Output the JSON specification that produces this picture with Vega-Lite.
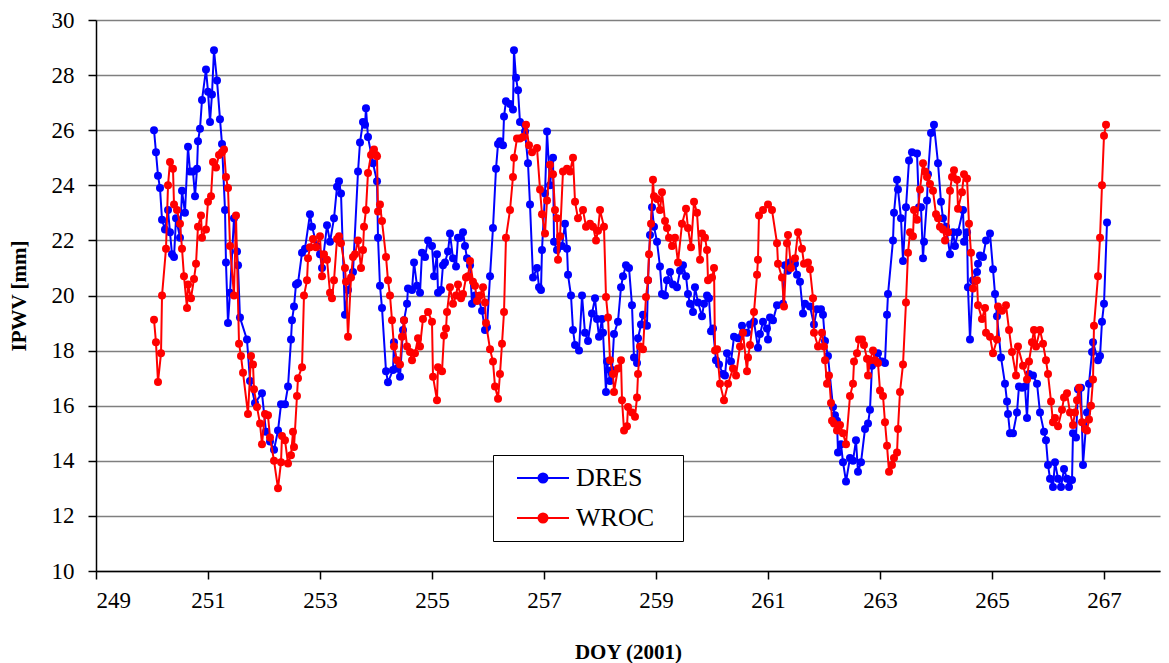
{
"$schema": "https://vega.github.io/schema/vega-lite/v6.json",
"width": 1064, "height": 551,
"autosize": "none",
"padding": {"left": 96, "top": 20, "right": 9, "bottom": 92},
"background": "white",
"config": {"font": "Liberation Serif", "view": {"stroke": null},
  "axis": {"labelColor": "black", "titleColor": "black", "domainColor": "black", "tickColor": "black", "domainWidth": 1.5, "tickWidth": 1.5, "tickSize": 8, "labelFontSize": 23, "titleFontSize": 21, "titleFontWeight": "bold", "labelFont": "Liberation Serif", "titleFont": "Liberation Serif"},
  "legend": {"labelFont": "Liberation Serif"}},
"datasets": {
"DRES": [
{"doy":250.036,"ipwv":26.0},{"doy":250.071,"ipwv":25.2},{"doy":250.107,"ipwv":24.35},{"doy":250.143,"ipwv":23.9},{"doy":250.179,"ipwv":22.75},{"doy":250.232,"ipwv":22.4},{"doy":250.286,"ipwv":23.1},{"doy":250.321,"ipwv":22.3},{"doy":250.357,"ipwv":21.5},{"doy":250.393,"ipwv":21.4},{"doy":250.429,"ipwv":22.8},{"doy":250.5,"ipwv":22.1},{"doy":250.536,"ipwv":23.8},{"doy":250.589,"ipwv":23.0},{"doy":250.643,"ipwv":25.4},{"doy":250.679,"ipwv":24.5},{"doy":250.732,"ipwv":24.5},{"doy":250.768,"ipwv":23.6},{"doy":250.804,"ipwv":24.6},{"doy":250.821,"ipwv":25.6},{"doy":250.857,"ipwv":26.05},{"doy":250.893,"ipwv":27.1},{"doy":250.964,"ipwv":28.2},{"doy":251.0,"ipwv":27.4},{"doy":251.036,"ipwv":26.3},{"doy":251.071,"ipwv":27.3},{"doy":251.107,"ipwv":28.9},{"doy":251.161,"ipwv":27.8},{"doy":251.214,"ipwv":26.4},{"doy":251.25,"ipwv":25.5},{"doy":251.304,"ipwv":23.1},{"doy":251.321,"ipwv":21.2},{"doy":251.357,"ipwv":19.0},{"doy":251.393,"ipwv":20.1},{"doy":251.464,"ipwv":22.8},{"doy":251.518,"ipwv":21.6},{"doy":251.536,"ipwv":21.1},{"doy":251.571,"ipwv":19.2},{"doy":251.696,"ipwv":18.4},{"doy":251.75,"ipwv":16.9},{"doy":251.839,"ipwv":16.1},{"doy":251.964,"ipwv":16.45},
{"doy":252.036,"ipwv":15.05},{"doy":252.107,"ipwv":14.7},{"doy":252.179,"ipwv":14.4},{"doy":252.25,"ipwv":15.1},{"doy":252.304,"ipwv":16.05},{"doy":252.375,"ipwv":16.05},{"doy":252.429,"ipwv":16.7},{"doy":252.482,"ipwv":18.4},{"doy":252.5,"ipwv":19.1},{"doy":252.536,"ipwv":19.6},{"doy":252.571,"ipwv":20.4},{"doy":252.607,"ipwv":20.45},{"doy":252.679,"ipwv":21.55},{"doy":252.732,"ipwv":21.7},{"doy":252.821,"ipwv":22.95},{"doy":252.857,"ipwv":22.5},{"doy":252.946,"ipwv":21.8},{"doy":253.0,"ipwv":21.5},{"doy":253.036,"ipwv":21.0},{"doy":253.125,"ipwv":22.55},{"doy":253.179,"ipwv":21.95},{"doy":253.25,"ipwv":22.8},{"doy":253.304,"ipwv":23.95},{"doy":253.339,"ipwv":24.15},{"doy":253.375,"ipwv":23.7},{"doy":253.446,"ipwv":19.3},{"doy":253.5,"ipwv":20.2},{"doy":253.589,"ipwv":20.85},{"doy":253.679,"ipwv":24.5},{"doy":253.714,"ipwv":25.55},{"doy":253.768,"ipwv":26.3},{"doy":253.804,"ipwv":26.2},{"doy":253.821,"ipwv":26.8},{"doy":253.857,"ipwv":25.75},{"doy":253.946,"ipwv":24.8},
{"doy":254.018,"ipwv":24.15},{"doy":254.036,"ipwv":22.1},{"doy":254.071,"ipwv":20.35},{"doy":254.107,"ipwv":19.55},{"doy":254.179,"ipwv":17.25},{"doy":254.214,"ipwv":16.85},{"doy":254.304,"ipwv":17.3},{"doy":254.321,"ipwv":18.3},{"doy":254.375,"ipwv":17.35},{"doy":254.429,"ipwv":17.05},{"doy":254.482,"ipwv":18.75},{"doy":254.5,"ipwv":19.1},{"doy":254.554,"ipwv":19.7},{"doy":254.571,"ipwv":20.25},{"doy":254.643,"ipwv":20.2},{"doy":254.679,"ipwv":21.2},{"doy":254.732,"ipwv":20.35},{"doy":254.786,"ipwv":20.1},{"doy":254.821,"ipwv":21.55},{"doy":254.875,"ipwv":21.4},{"doy":254.929,"ipwv":22.0},
{"doy":255.0,"ipwv":21.8},{"doy":255.036,"ipwv":20.7},{"doy":255.089,"ipwv":21.5},{"doy":255.107,"ipwv":20.1},{"doy":255.161,"ipwv":20.2},{"doy":255.196,"ipwv":21.1},{"doy":255.232,"ipwv":21.2},{"doy":255.286,"ipwv":21.6},{"doy":255.321,"ipwv":22.25},{"doy":255.375,"ipwv":21.35},{"doy":255.429,"ipwv":21.05},{"doy":255.464,"ipwv":22.1},{"doy":255.5,"ipwv":22.1},{"doy":255.554,"ipwv":22.3},{"doy":255.589,"ipwv":21.8},{"doy":255.625,"ipwv":21.35},{"doy":255.679,"ipwv":21.1},{"doy":255.714,"ipwv":19.7},{"doy":255.768,"ipwv":20.0},{"doy":255.821,"ipwv":19.95},{"doy":255.893,"ipwv":19.45},{"doy":255.946,"ipwv":18.75},{"doy":255.982,"ipwv":18.85},
{"doy":256.036,"ipwv":20.7},{"doy":256.089,"ipwv":22.45},{"doy":256.143,"ipwv":24.6},{"doy":256.179,"ipwv":25.5},{"doy":256.214,"ipwv":25.6},{"doy":256.268,"ipwv":25.45},{"doy":256.286,"ipwv":26.5},{"doy":256.321,"ipwv":27.05},{"doy":256.393,"ipwv":26.95},{"doy":256.446,"ipwv":26.75},{"doy":256.464,"ipwv":28.9},{"doy":256.5,"ipwv":27.9},{"doy":256.536,"ipwv":27.45},{"doy":256.571,"ipwv":26.3},{"doy":256.661,"ipwv":25.95},{"doy":256.714,"ipwv":24.8},{"doy":256.75,"ipwv":23.3},{"doy":256.804,"ipwv":20.65},{"doy":256.875,"ipwv":21.0},{"doy":256.911,"ipwv":20.3},{"doy":256.946,"ipwv":20.2},{"doy":256.964,"ipwv":21.65},
{"doy":257.018,"ipwv":23.7},{"doy":257.054,"ipwv":25.95},{"doy":257.107,"ipwv":24.0},{"doy":257.161,"ipwv":25.0},{"doy":257.179,"ipwv":21.95},{"doy":257.232,"ipwv":21.65},{"doy":257.321,"ipwv":21.8},{"doy":257.375,"ipwv":22.6},{"doy":257.411,"ipwv":21.7},{"doy":257.429,"ipwv":20.75},{"doy":257.482,"ipwv":20.0},{"doy":257.518,"ipwv":18.75},{"doy":257.554,"ipwv":18.2},{"doy":257.625,"ipwv":18.0},{"doy":257.679,"ipwv":20.0},{"doy":257.732,"ipwv":18.65},{"doy":257.786,"ipwv":18.35},{"doy":257.857,"ipwv":19.35},{"doy":257.911,"ipwv":19.9},{"doy":257.946,"ipwv":19.15},{"doy":257.982,"ipwv":18.5},
{"doy":258.036,"ipwv":19.15},{"doy":258.054,"ipwv":18.65},{"doy":258.107,"ipwv":16.5},{"doy":258.125,"ipwv":17.6},{"doy":258.179,"ipwv":16.9},{"doy":258.214,"ipwv":17.3},{"doy":258.25,"ipwv":18.6},{"doy":258.321,"ipwv":19.05},{"doy":258.375,"ipwv":20.3},{"doy":258.411,"ipwv":20.7},{"doy":258.464,"ipwv":21.1},{"doy":258.518,"ipwv":21.0},{"doy":258.571,"ipwv":19.65},{"doy":258.607,"ipwv":17.75},{"doy":258.661,"ipwv":17.55},{"doy":258.679,"ipwv":18.45},{"doy":258.732,"ipwv":18.95},{"doy":258.768,"ipwv":19.3},{"doy":258.839,"ipwv":18.9},{"doy":258.857,"ipwv":20.55},{"doy":258.893,"ipwv":22.2},{"doy":258.929,"ipwv":23.2},{"doy":258.964,"ipwv":22.5},
{"doy":259.018,"ipwv":21.95},{"doy":259.071,"ipwv":21.05},{"doy":259.107,"ipwv":20.05},{"doy":259.161,"ipwv":20.0},{"doy":259.196,"ipwv":20.55},{"doy":259.25,"ipwv":20.85},{"doy":259.304,"ipwv":20.4},{"doy":259.375,"ipwv":20.3},{"doy":259.429,"ipwv":20.9},{"doy":259.482,"ipwv":21.1},{"doy":259.536,"ipwv":20.7},{"doy":259.571,"ipwv":20.05},{"doy":259.607,"ipwv":19.7},{"doy":259.661,"ipwv":19.4},{"doy":259.696,"ipwv":20.3},{"doy":259.75,"ipwv":19.75},{"doy":259.821,"ipwv":19.25},{"doy":259.857,"ipwv":19.7},{"doy":259.911,"ipwv":20.0},{"doy":259.946,"ipwv":19.9},{"doy":259.982,"ipwv":18.7},
{"doy":260.018,"ipwv":18.8},{"doy":260.071,"ipwv":17.65},{"doy":260.125,"ipwv":17.5},{"doy":260.196,"ipwv":17.15},{"doy":260.232,"ipwv":17.1},{"doy":260.268,"ipwv":17.9},{"doy":260.339,"ipwv":17.6},{"doy":260.393,"ipwv":18.5},{"doy":260.464,"ipwv":18.45},{"doy":260.536,"ipwv":18.9},{"doy":260.625,"ipwv":18.65},{"doy":260.679,"ipwv":18.95},{"doy":260.75,"ipwv":19.05},{"doy":260.821,"ipwv":18.1},{"doy":260.857,"ipwv":18.6},{"doy":260.911,"ipwv":19.05},{"doy":260.982,"ipwv":18.8},
{"doy":261.0,"ipwv":18.4},{"doy":261.036,"ipwv":19.2},{"doy":261.089,"ipwv":19.1},{"doy":261.161,"ipwv":19.65},{"doy":261.268,"ipwv":19.7},{"doy":261.304,"ipwv":21.1},{"doy":261.357,"ipwv":20.9},{"doy":261.393,"ipwv":21.2},{"doy":261.482,"ipwv":21.15},{"doy":261.518,"ipwv":20.75},{"doy":261.571,"ipwv":20.5},{"doy":261.625,"ipwv":19.35},{"doy":261.661,"ipwv":19.7},{"doy":261.75,"ipwv":19.6},{"doy":261.821,"ipwv":18.95},{"doy":261.875,"ipwv":19.5},{"doy":261.946,"ipwv":19.5},{"doy":261.982,"ipwv":19.3},
{"doy":262.018,"ipwv":18.35},{"doy":262.071,"ipwv":17.8},{"doy":262.161,"ipwv":15.95},{"doy":262.196,"ipwv":15.65},{"doy":262.232,"ipwv":15.45},{"doy":262.25,"ipwv":14.3},{"doy":262.304,"ipwv":14.6},{"doy":262.339,"ipwv":13.95},{"doy":262.393,"ipwv":13.25},{"doy":262.464,"ipwv":14.1},{"doy":262.518,"ipwv":14.0},{"doy":262.571,"ipwv":14.75},{"doy":262.607,"ipwv":13.6},{"doy":262.661,"ipwv":13.95},{"doy":262.732,"ipwv":15.15},{"doy":262.786,"ipwv":15.35},{"doy":262.821,"ipwv":15.85},{"doy":262.857,"ipwv":17.45},{"doy":262.911,"ipwv":17.65},{"doy":262.964,"ipwv":17.9},
{"doy":263.036,"ipwv":17.6},{"doy":263.089,"ipwv":17.55},{"doy":263.125,"ipwv":19.3},{"doy":263.143,"ipwv":20.05},{"doy":263.232,"ipwv":22.0},{"doy":263.25,"ipwv":23.0},{"doy":263.304,"ipwv":24.2},{"doy":263.321,"ipwv":23.85},{"doy":263.375,"ipwv":22.8},{"doy":263.411,"ipwv":21.25},{"doy":263.464,"ipwv":23.2},{"doy":263.518,"ipwv":24.9},{"doy":263.571,"ipwv":25.2},{"doy":263.661,"ipwv":25.15},{"doy":263.696,"ipwv":23.2},{"doy":263.732,"ipwv":23.2},{"doy":263.768,"ipwv":21.35},{"doy":263.786,"ipwv":21.95},{"doy":263.839,"ipwv":23.45},{"doy":263.857,"ipwv":24.4},{"doy":263.911,"ipwv":25.9},{"doy":263.964,"ipwv":26.2},
{"doy":264.036,"ipwv":24.8},{"doy":264.089,"ipwv":23.4},{"doy":264.125,"ipwv":22.8},{"doy":264.179,"ipwv":22.5},{"doy":264.25,"ipwv":21.5},{"doy":264.304,"ipwv":22.3},{"doy":264.339,"ipwv":21.8},{"doy":264.393,"ipwv":22.3},{"doy":264.482,"ipwv":23.1},{"doy":264.5,"ipwv":21.95},{"doy":264.554,"ipwv":22.3},{"doy":264.571,"ipwv":20.3},{"doy":264.607,"ipwv":18.4},{"doy":264.661,"ipwv":20.55},{"doy":264.732,"ipwv":20.85},{"doy":264.75,"ipwv":21.15},{"doy":264.786,"ipwv":21.45},{"doy":264.839,"ipwv":21.4},{"doy":264.893,"ipwv":22.0},{"doy":264.964,"ipwv":22.25},
{"doy":265.018,"ipwv":20.95},{"doy":265.054,"ipwv":20.05},{"doy":265.089,"ipwv":19.25},{"doy":265.161,"ipwv":17.75},{"doy":265.232,"ipwv":16.8},{"doy":265.268,"ipwv":16.15},{"doy":265.286,"ipwv":15.7},{"doy":265.321,"ipwv":15.0},{"doy":265.375,"ipwv":15.0},{"doy":265.446,"ipwv":15.75},{"doy":265.482,"ipwv":16.7},{"doy":265.536,"ipwv":16.65},{"doy":265.589,"ipwv":16.7},{"doy":265.625,"ipwv":15.55},{"doy":265.661,"ipwv":17.15},{"doy":265.732,"ipwv":17.1},{"doy":265.804,"ipwv":16.8},{"doy":265.857,"ipwv":15.75},{"doy":265.929,"ipwv":15.05},{"doy":265.964,"ipwv":14.75},
{"doy":266.0,"ipwv":13.85},{"doy":266.036,"ipwv":13.35},{"doy":266.089,"ipwv":13.05},{"doy":266.125,"ipwv":13.95},{"doy":266.179,"ipwv":13.35},{"doy":266.232,"ipwv":13.05},{"doy":266.286,"ipwv":13.7},{"doy":266.339,"ipwv":13.35},{"doy":266.375,"ipwv":13.05},{"doy":266.429,"ipwv":13.3},{"doy":266.446,"ipwv":15.0},{"doy":266.5,"ipwv":14.85},{"doy":266.536,"ipwv":16.6},{"doy":266.589,"ipwv":16.65},{"doy":266.625,"ipwv":13.85},{"doy":266.696,"ipwv":15.75},{"doy":266.732,"ipwv":16.8},{"doy":266.786,"ipwv":17.95},{"doy":266.804,"ipwv":18.3},{"doy":266.893,"ipwv":17.65},{"doy":266.929,"ipwv":17.8},{"doy":266.964,"ipwv":19.05},{"doy":267.0,"ipwv":19.7},{"doy":267.054,"ipwv":22.65}
],
"WROC": [
{"doy":250.036,"ipwv":19.12},{"doy":250.071,"ipwv":18.3},{"doy":250.107,"ipwv":16.86},{"doy":250.161,"ipwv":17.9},{"doy":250.179,"ipwv":20.0},{"doy":250.25,"ipwv":21.7},{"doy":250.286,"ipwv":24.0},{"doy":250.321,"ipwv":24.85},{"doy":250.375,"ipwv":24.6},{"doy":250.393,"ipwv":23.3},{"doy":250.446,"ipwv":23.1},{"doy":250.5,"ipwv":22.6},{"doy":250.536,"ipwv":21.7},{"doy":250.571,"ipwv":20.7},{"doy":250.625,"ipwv":19.55},{"doy":250.643,"ipwv":20.4},{"doy":250.696,"ipwv":19.9},{"doy":250.75,"ipwv":20.6},{"doy":250.786,"ipwv":21.15},{"doy":250.821,"ipwv":22.5},{"doy":250.875,"ipwv":22.9},{"doy":250.893,"ipwv":22.1},{"doy":250.964,"ipwv":22.4},
{"doy":251.0,"ipwv":23.4},{"doy":251.054,"ipwv":23.6},{"doy":251.089,"ipwv":24.85},{"doy":251.143,"ipwv":24.65},{"doy":251.196,"ipwv":25.1},{"doy":251.25,"ipwv":25.2},{"doy":251.286,"ipwv":25.3},{"doy":251.321,"ipwv":24.3},{"doy":251.357,"ipwv":23.9},{"doy":251.393,"ipwv":21.8},{"doy":251.464,"ipwv":20.0},{"doy":251.5,"ipwv":22.9},{"doy":251.554,"ipwv":18.25},{"doy":251.589,"ipwv":17.8},{"doy":251.625,"ipwv":17.2},{"doy":251.714,"ipwv":15.7},{"doy":251.768,"ipwv":17.8},{"doy":251.804,"ipwv":17.5},{"doy":251.821,"ipwv":16.6},{"doy":251.875,"ipwv":15.95},{"doy":251.929,"ipwv":15.35},{"doy":251.964,"ipwv":14.6},
{"doy":252.018,"ipwv":15.7},{"doy":252.071,"ipwv":15.65},{"doy":252.107,"ipwv":14.85},{"doy":252.179,"ipwv":14.0},{"doy":252.25,"ipwv":13.0},{"doy":252.304,"ipwv":13.95},{"doy":252.321,"ipwv":14.9},{"doy":252.375,"ipwv":14.75},{"doy":252.429,"ipwv":13.9},{"doy":252.482,"ipwv":14.2},{"doy":252.518,"ipwv":15.05},{"doy":252.536,"ipwv":14.5},{"doy":252.589,"ipwv":16.35},{"doy":252.607,"ipwv":17.0},{"doy":252.679,"ipwv":17.4},{"doy":252.714,"ipwv":20.0},{"doy":252.768,"ipwv":20.55},{"doy":252.786,"ipwv":21.35},{"doy":252.821,"ipwv":21.75},{"doy":252.875,"ipwv":22.05},{"doy":252.929,"ipwv":21.75},
{"doy":253.0,"ipwv":22.15},{"doy":253.036,"ipwv":20.7},{"doy":253.071,"ipwv":21.5},{"doy":253.125,"ipwv":21.3},{"doy":253.179,"ipwv":20.1},{"doy":253.214,"ipwv":19.9},{"doy":253.25,"ipwv":20.55},{"doy":253.304,"ipwv":22.05},{"doy":253.339,"ipwv":22.15},{"doy":253.375,"ipwv":21.9},{"doy":253.446,"ipwv":21.0},{"doy":253.464,"ipwv":20.5},{"doy":253.5,"ipwv":18.5},{"doy":253.554,"ipwv":20.65},{"doy":253.589,"ipwv":21.4},{"doy":253.625,"ipwv":21.5},{"doy":253.679,"ipwv":22.0},{"doy":253.732,"ipwv":21.0},{"doy":253.768,"ipwv":21.65},{"doy":253.786,"ipwv":22.5},{"doy":253.821,"ipwv":23.1},{"doy":253.857,"ipwv":24.45},{"doy":253.911,"ipwv":25.1},{"doy":253.946,"ipwv":25.2},{"doy":253.964,"ipwv":25.3},
{"doy":254.0,"ipwv":25.1},{"doy":254.018,"ipwv":25.05},{"doy":254.036,"ipwv":23.05},{"doy":254.071,"ipwv":23.3},{"doy":254.107,"ipwv":22.7},{"doy":254.179,"ipwv":21.4},{"doy":254.214,"ipwv":20.55},{"doy":254.25,"ipwv":20.0},{"doy":254.286,"ipwv":19.1},{"doy":254.321,"ipwv":18.15},{"doy":254.375,"ipwv":17.65},{"doy":254.429,"ipwv":17.5},{"doy":254.464,"ipwv":18.5},{"doy":254.5,"ipwv":19.1},{"doy":254.554,"ipwv":18.15},{"doy":254.607,"ipwv":17.95},{"doy":254.643,"ipwv":17.65},{"doy":254.696,"ipwv":17.9},{"doy":254.75,"ipwv":18.45},{"doy":254.786,"ipwv":18.15},{"doy":254.839,"ipwv":19.15},{"doy":254.929,"ipwv":19.4},
{"doy":255.0,"ipwv":19.05},{"doy":255.018,"ipwv":17.05},{"doy":255.089,"ipwv":16.2},{"doy":255.107,"ipwv":17.4},{"doy":255.179,"ipwv":17.25},{"doy":255.214,"ipwv":18.55},{"doy":255.25,"ipwv":18.8},{"doy":255.268,"ipwv":19.4},{"doy":255.321,"ipwv":20.3},{"doy":255.375,"ipwv":19.7},{"doy":255.429,"ipwv":20.0},{"doy":255.464,"ipwv":20.4},{"doy":255.518,"ipwv":19.9},{"doy":255.554,"ipwv":20.05},{"doy":255.607,"ipwv":20.65},{"doy":255.643,"ipwv":20.7},{"doy":255.679,"ipwv":21.25},{"doy":255.732,"ipwv":20.5},{"doy":255.768,"ipwv":20.35},{"doy":255.804,"ipwv":19.8},{"doy":255.857,"ipwv":20.0},{"doy":255.911,"ipwv":20.3},{"doy":255.946,"ipwv":19.75},{"doy":255.964,"ipwv":19.0},
{"doy":256.036,"ipwv":18.05},{"doy":256.089,"ipwv":17.6},{"doy":256.125,"ipwv":16.7},{"doy":256.179,"ipwv":16.25},{"doy":256.214,"ipwv":17.15},{"doy":256.25,"ipwv":18.25},{"doy":256.286,"ipwv":19.4},{"doy":256.321,"ipwv":22.1},{"doy":256.393,"ipwv":23.1},{"doy":256.446,"ipwv":24.3},{"doy":256.464,"ipwv":25.0},{"doy":256.518,"ipwv":25.7},{"doy":256.571,"ipwv":25.7},{"doy":256.625,"ipwv":25.75},{"doy":256.679,"ipwv":26.2},{"doy":256.732,"ipwv":25.45},{"doy":256.786,"ipwv":25.2},{"doy":256.875,"ipwv":25.35},{"doy":256.929,"ipwv":23.85},{"doy":256.964,"ipwv":22.95},
{"doy":257.018,"ipwv":22.25},{"doy":257.054,"ipwv":23.45},{"doy":257.107,"ipwv":24.75},{"doy":257.161,"ipwv":24.4},{"doy":257.196,"ipwv":23.1},{"doy":257.232,"ipwv":22.8},{"doy":257.25,"ipwv":21.3},{"doy":257.286,"ipwv":22.15},{"doy":257.339,"ipwv":24.5},{"doy":257.411,"ipwv":24.6},{"doy":257.464,"ipwv":24.5},{"doy":257.518,"ipwv":25.0},{"doy":257.554,"ipwv":23.4},{"doy":257.607,"ipwv":22.8},{"doy":257.696,"ipwv":23.1},{"doy":257.75,"ipwv":22.5},{"doy":257.821,"ipwv":22.6},{"doy":257.875,"ipwv":22.5},{"doy":257.929,"ipwv":22.0},{"doy":257.964,"ipwv":22.35},
{"doy":258.0,"ipwv":23.1},{"doy":258.071,"ipwv":22.5},{"doy":258.107,"ipwv":19.95},{"doy":258.143,"ipwv":19.2},{"doy":258.179,"ipwv":17.65},{"doy":258.232,"ipwv":17.15},{"doy":258.25,"ipwv":16.5},{"doy":258.321,"ipwv":17.35},{"doy":258.375,"ipwv":17.65},{"doy":258.393,"ipwv":16.2},{"doy":258.429,"ipwv":15.1},{"doy":258.482,"ipwv":15.25},{"doy":258.5,"ipwv":15.95},{"doy":258.571,"ipwv":15.75},{"doy":258.625,"ipwv":15.6},{"doy":258.661,"ipwv":16.3},{"doy":258.679,"ipwv":17.15},{"doy":258.714,"ipwv":18.15},{"doy":258.768,"ipwv":18.05},{"doy":258.821,"ipwv":19.95},{"doy":258.857,"ipwv":20.55},{"doy":258.875,"ipwv":21.5},{"doy":258.911,"ipwv":22.6},{"doy":258.946,"ipwv":24.2},{"doy":258.964,"ipwv":23.6},
{"doy":259.018,"ipwv":23.5},{"doy":259.071,"ipwv":23.1},{"doy":259.107,"ipwv":23.75},{"doy":259.161,"ipwv":22.7},{"doy":259.196,"ipwv":22.45},{"doy":259.232,"ipwv":22.1},{"doy":259.286,"ipwv":21.8},{"doy":259.339,"ipwv":22.1},{"doy":259.393,"ipwv":21.2},{"doy":259.464,"ipwv":22.6},{"doy":259.536,"ipwv":23.15},{"doy":259.571,"ipwv":22.45},{"doy":259.625,"ipwv":21.75},{"doy":259.679,"ipwv":23.4},{"doy":259.732,"ipwv":23.0},{"doy":259.786,"ipwv":21.3},{"doy":259.821,"ipwv":22.25},{"doy":259.875,"ipwv":22.1},{"doy":259.911,"ipwv":21.65},{"doy":259.929,"ipwv":20.55},
{"doy":260.0,"ipwv":20.65},{"doy":260.036,"ipwv":21.0},{"doy":260.054,"ipwv":18.0},{"doy":260.089,"ipwv":18.05},{"doy":260.143,"ipwv":16.8},{"doy":260.214,"ipwv":16.2},{"doy":260.286,"ipwv":16.8},{"doy":260.375,"ipwv":17.35},{"doy":260.429,"ipwv":17.1},{"doy":260.5,"ipwv":18.15},{"doy":260.554,"ipwv":18.65},{"doy":260.625,"ipwv":17.25},{"doy":260.643,"ipwv":17.75},{"doy":260.679,"ipwv":18.2},{"doy":260.75,"ipwv":19.4},{"doy":260.804,"ipwv":20.75},{"doy":260.821,"ipwv":21.3},{"doy":260.839,"ipwv":22.9},{"doy":260.911,"ipwv":23.1},
{"doy":261.0,"ipwv":23.3},{"doy":261.071,"ipwv":23.1},{"doy":261.161,"ipwv":21.9},{"doy":261.179,"ipwv":21.15},{"doy":261.25,"ipwv":20.65},{"doy":261.286,"ipwv":19.6},{"doy":261.339,"ipwv":21.9},{"doy":261.357,"ipwv":22.2},{"doy":261.411,"ipwv":21.0},{"doy":261.482,"ipwv":21.35},{"doy":261.536,"ipwv":22.3},{"doy":261.607,"ipwv":21.7},{"doy":261.643,"ipwv":21.15},{"doy":261.714,"ipwv":21.2},{"doy":261.75,"ipwv":20.95},{"doy":261.804,"ipwv":19.9},{"doy":261.821,"ipwv":18.65},{"doy":261.893,"ipwv":18.15},{"doy":261.964,"ipwv":18.65},
{"doy":262.0,"ipwv":18.15},{"doy":262.018,"ipwv":17.65},{"doy":262.054,"ipwv":16.8},{"doy":262.089,"ipwv":17.1},{"doy":262.125,"ipwv":16.1},{"doy":262.143,"ipwv":15.45},{"doy":262.179,"ipwv":15.35},{"doy":262.232,"ipwv":15.1},{"doy":262.286,"ipwv":15.3},{"doy":262.339,"ipwv":15.0},{"doy":262.393,"ipwv":14.6},{"doy":262.464,"ipwv":16.35},{"doy":262.518,"ipwv":16.8},{"doy":262.536,"ipwv":17.6},{"doy":262.589,"ipwv":17.9},{"doy":262.625,"ipwv":18.4},{"doy":262.679,"ipwv":18.4},{"doy":262.714,"ipwv":18.2},{"doy":262.768,"ipwv":17.7},{"doy":262.786,"ipwv":17.1},{"doy":262.821,"ipwv":17.65},{"doy":262.875,"ipwv":18.0},{"doy":262.911,"ipwv":17.65},{"doy":262.964,"ipwv":17.55},
{"doy":263.0,"ipwv":16.55},{"doy":263.054,"ipwv":16.35},{"doy":263.089,"ipwv":15.4},{"doy":263.125,"ipwv":14.55},{"doy":263.161,"ipwv":13.6},{"doy":263.214,"ipwv":13.85},{"doy":263.25,"ipwv":14.1},{"doy":263.304,"ipwv":14.3},{"doy":263.321,"ipwv":15.15},{"doy":263.357,"ipwv":16.5},{"doy":263.411,"ipwv":17.5},{"doy":263.464,"ipwv":19.75},{"doy":263.5,"ipwv":21.55},{"doy":263.536,"ipwv":22.3},{"doy":263.589,"ipwv":22.15},{"doy":263.607,"ipwv":23.1},{"doy":263.661,"ipwv":22.75},{"doy":263.714,"ipwv":23.85},{"doy":263.768,"ipwv":24.8},{"doy":263.804,"ipwv":24.5},{"doy":263.839,"ipwv":24.3},{"doy":263.893,"ipwv":24.05},{"doy":263.946,"ipwv":23.8},
{"doy":264.0,"ipwv":22.95},{"doy":264.036,"ipwv":22.8},{"doy":264.071,"ipwv":22.5},{"doy":264.125,"ipwv":22.4},{"doy":264.161,"ipwv":22.0},{"doy":264.214,"ipwv":22.3},{"doy":264.25,"ipwv":23.8},{"doy":264.286,"ipwv":24.3},{"doy":264.321,"ipwv":24.55},{"doy":264.375,"ipwv":24.2},{"doy":264.393,"ipwv":23.15},{"doy":264.464,"ipwv":23.75},{"doy":264.5,"ipwv":24.4},{"doy":264.554,"ipwv":24.25},{"doy":264.589,"ipwv":22.6},{"doy":264.625,"ipwv":21.55},{"doy":264.661,"ipwv":20.25},{"doy":264.732,"ipwv":20.55},{"doy":264.75,"ipwv":19.65},{"doy":264.821,"ipwv":19.15},{"doy":264.875,"ipwv":19.55},{"doy":264.893,"ipwv":18.65},{"doy":264.964,"ipwv":18.5},
{"doy":265.018,"ipwv":17.9},{"doy":265.089,"ipwv":18.4},{"doy":265.107,"ipwv":19.6},{"doy":265.179,"ipwv":19.45},{"doy":265.25,"ipwv":19.65},{"doy":265.304,"ipwv":18.75},{"doy":265.357,"ipwv":17.95},{"doy":265.429,"ipwv":17.1},{"doy":265.464,"ipwv":18.15},{"doy":265.554,"ipwv":17.45},{"doy":265.625,"ipwv":16.95},{"doy":265.661,"ipwv":17.6},{"doy":265.714,"ipwv":18.3},{"doy":265.75,"ipwv":18.75},{"doy":265.786,"ipwv":18.15},{"doy":265.857,"ipwv":18.75},{"doy":265.911,"ipwv":18.25},{"doy":265.964,"ipwv":17.65},
{"doy":266.0,"ipwv":17.15},{"doy":266.054,"ipwv":16.15},{"doy":266.089,"ipwv":15.4},{"doy":266.125,"ipwv":15.55},{"doy":266.179,"ipwv":15.25},{"doy":266.25,"ipwv":15.85},{"doy":266.286,"ipwv":16.3},{"doy":266.339,"ipwv":16.45},{"doy":266.393,"ipwv":15.75},{"doy":266.446,"ipwv":15.3},{"doy":266.482,"ipwv":15.75},{"doy":266.518,"ipwv":16.2},{"doy":266.554,"ipwv":16.65},{"doy":266.607,"ipwv":15.4},{"doy":266.661,"ipwv":15.15},{"doy":266.696,"ipwv":15.1},{"doy":266.732,"ipwv":15.5},{"doy":266.768,"ipwv":16.0},{"doy":266.804,"ipwv":16.95},{"doy":266.821,"ipwv":18.9},{"doy":266.893,"ipwv":20.7},{"doy":266.929,"ipwv":22.1},{"doy":266.964,"ipwv":24.0},{"doy":267.0,"ipwv":25.8},{"doy":267.036,"ipwv":26.2}
]
},
"encoding": {
  "x": {"field": "doy", "type": "quantitative",
    "scale": {"domain": [249, 268], "nice": false, "zero": false},
    "axis": {"values": [249, 251, 253, 255, 257, 259, 261, 263, 265, 267], "format": "d", "title": "DOY (2001)", "grid": false, "labelPadding": 10, "titlePadding": 29, "labelFont": "Liberation Serif", "titleFont": "Liberation Serif"}},
  "y": {"field": "ipwv", "type": "quantitative",
    "scale": {"domain": [10, 30], "nice": false, "zero": false},
    "axis": {"values": [10, 12, 14, 16, 18, 20, 22, 24, 26, 28, 30], "format": "d", "title": "IPWV [mm]", "grid": true, "gridColor": "#7f7f7f", "gridWidth": 1.5, "labelPadding": 14, "titlePadding": 22, "labelFont": "Liberation Serif", "titleFont": "Liberation Serif"}}
},
"layer": [
  {"data": {"name": "DRES"},
   "mark": {"type": "line", "strokeWidth": 2, "point": {"filled": true, "size": 64, "opacity": 1}},
   "encoding": {"color": {"datum": "DRES", "type": "nominal",
     "scale": {"domain": ["DRES", "WROC"], "range": ["#0000ff", "#ff0000"]},
     "legend": {"title": null, "orient": "none", "legendX": 397, "legendY": 435, "direction": "vertical",
       "fillColor": "white", "strokeColor": "black", "padding": 10,
       "symbolType": "M-2.6,0L2.6,0M0.45,0A0.45,0.45,0,1,1,-0.45,0A0.45,0.45,0,1,1,0.45,0ZM12.6,0",
       "symbolSize": 400, "symbolStrokeWidth": 2, "symbolOffset": 27,
       "labelFontSize": 26, "labelFont": "Liberation Serif", "labelColor": "black", "labelOffset": 20, "rowPadding": 14,
       "encode": {"symbols": {"update": {"stroke": {"scale": "color", "field": "value"}, "fill": {"scale": "color", "field": "value"}, "strokeWidth": {"value": 2}, "opacity": {"value": 1}}}}}}}},
  {"data": {"name": "WROC"},
   "mark": {"type": "line", "strokeWidth": 2, "point": {"filled": true, "size": 64, "opacity": 1}},
   "encoding": {"color": {"datum": "WROC", "type": "nominal"}}}
]
}
